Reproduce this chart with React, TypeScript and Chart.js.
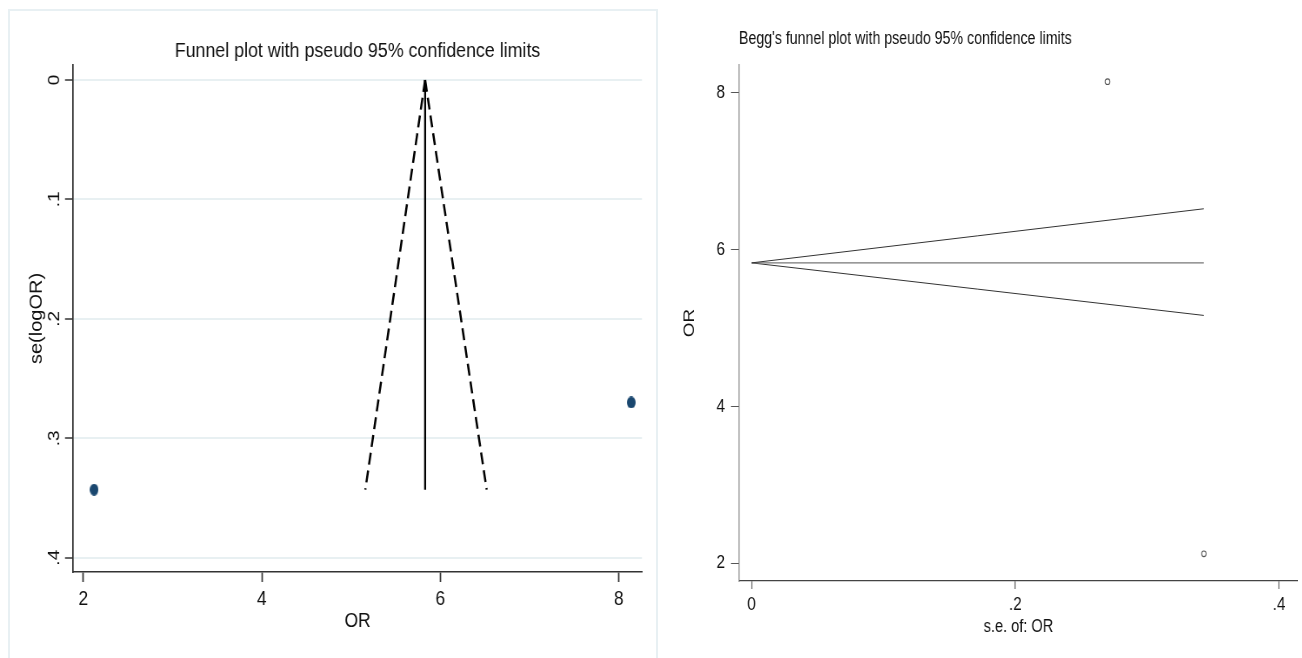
import React, { useEffect, useRef } from "react";
import { Chart, registerables } from "chart.js";

Chart.register(...registerables);

// ---- data ----
const studyOR = [2.12, 8.14];
const studySE = [0.343, 0.27];
const pooledOR = 5.83;
const funnelMaxSE = 0.343;
const lowerLimitOR = 5.16;
const upperLimitOR = 6.52;

const leftXTicks = [2, 4, 6, 8];
const leftXTickLabels = ["2", "4", "6", "8"];
const leftYTicks = [0, 0.1, 0.2, 0.3, 0.4];
const leftYTickLabels = ["0", ".1", ".2", ".3", ".4"];
const rightXTicks = [0, 0.2, 0.4];
const rightXTickLabels = ["0", ".2", ".4"];
const rightYTicks = [2, 4, 6, 8];
const rightYTickLabels = ["2", "4", "6", "8"];

const FONT = '"Liberation Sans", Arial, sans-serif';

// the reference is horizontally condensed: each canvas is drawn wider and shown narrower
const LEFT_CSS_W = 660;
const LEFT_INT_W = 759;
const kL = LEFT_CSS_W / LEFT_INT_W;
const RIGHT_CSS_W = 642;
const RIGHT_INT_W = 793;
const kR = RIGHT_CSS_W / RIGHT_INT_W;
const H = 658;

function ellipseDot(w: number, h: number, color: string) {
  const c = document.createElement("canvas");
  c.width = Math.round(w);
  c.height = Math.round(h);
  const ctx = c.getContext("2d")!;
  ctx.fillStyle = color;
  ctx.beginPath();
  ctx.ellipse(c.width / 2, c.height / 2, c.width / 2, c.height / 2, 0, 0, Math.PI * 2);
  ctx.fill();
  return c;
}

function setTicks(values: number[]) {
  return (s: any) => {
    s.ticks = values.map((v) => ({ value: v }));
  };
}

export default function App() {
  const leftRef = useRef<HTMLCanvasElement>(null);
  const rightRef = useRef<HTMLCanvasElement>(null);

  useEffect(() => {
    const dot = ellipseDot(9 / kL, 12, "#1a476f");
    const left = new Chart(leftRef.current!, {
      type: "scatter",
      data: {
        datasets: [
          {
            data: [
              { x: pooledOR, y: 0 },
              { x: lowerLimitOR, y: funnelMaxSE },
            ],
            showLine: true,
            borderColor: "#000",
            borderWidth: 2.5,
            borderDash: [12, 6],
            pointRadius: 0,
          },
          {
            data: [
              { x: pooledOR, y: 0 },
              { x: upperLimitOR, y: funnelMaxSE },
            ],
            showLine: true,
            borderColor: "#000",
            borderWidth: 2.5,
            borderDash: [12, 6],
            pointRadius: 0,
          },
          {
            data: [
              { x: pooledOR, y: 0 },
              { x: pooledOR, y: funnelMaxSE },
            ],
            showLine: true,
            borderColor: "#000",
            borderWidth: 2.3,
            pointRadius: 0,
          },
          {
            data: studyOR.map((v, i) => ({ x: v, y: studySE[i] })),
            pointStyle: dot as any,
            pointRadius: 6,
            showLine: false,
          },
        ],
      },
      options: {
        animation: false,
        responsive: false,
        devicePixelRatio: 1,
        events: [],
        layout: { padding: { left: 0, right: LEFT_INT_W - 642 / kL, top: 0, bottom: 0 } },
        plugins: {
          legend: { display: false },
          tooltip: { enabled: false },
          title: {
            display: true,
            text: "Funnel plot with pseudo 95% confidence limits",
            color: "#111",
            font: { family: FONT, size: 20.5, weight: "normal" },
            padding: { top: 38.7, bottom: 1.7 },
            fullSize: false,
            align: "center",
          } as any,
        },
        scales: {
          x: {
            type: "linear",
            position: "bottom",
            min: 1.8834,
            max: 8.261,
            afterBuildTicks: setTicks(leftXTicks),
            afterFit: (s: any) => {
              s.height = 86;
            },
            grid: {
              drawOnChartArea: false,
              drawTicks: true,
              tickLength: 10,
              tickColor: "#333",
              tickWidth: 1.7,
            },
            border: { display: true, color: "#333", width: 1.5 },
            ticks: {
              color: "#111",
              font: { family: FONT, size: 20 },
              padding: 5,
              autoSkip: false,
              minRotation: 0,
              maxRotation: 0,
              callback: (_v: any, i: number) => leftXTickLabels[i],
            },
            title: {
              display: true,
              text: "OR",
              color: "#111",
              font: { family: FONT, size: 20 },
              padding: { top: 0, bottom: 25 },
            },
          },
          y: {
            type: "linear",
            position: "left",
            reverse: true,
            min: -0.01256,
            max: 0.41197,
            afterBuildTicks: setTicks(leftYTicks),
            afterFit: (s: any) => {
              s.width = 73 / kL;
            },
            grid: {
              color: "#e8f0f2",
              lineWidth: 2,
              drawTicks: true,
              tickLength: 8 / kL,
              tickColor: "#333",
              tickWidth: 1.5,
            },
            border: { display: true, color: "#333", width: 1.7 },
            ticks: {
              color: "#111",
              font: { family: FONT, size: 19 },
              padding: 4.5,
              minRotation: 90,
              maxRotation: 90,
              crossAlign: "center",
              autoSkip: false,
              callback: (_v: any, i: number) => leftYTickLabels[i],
            },
            title: {
              display: true,
              text: "se(logOR)",
              color: "#111",
              font: { family: FONT, size: 20 },
              padding: { top: 36.7 / kL - 12, bottom: 0 },
            },
          },
        },
      },
    });

    const right = new Chart(rightRef.current!, {
      type: "scatter",
      data: {
        datasets: [
          {
            data: [
              { x: 0, y: pooledOR },
              { x: funnelMaxSE, y: upperLimitOR },
            ],
            showLine: true,
            borderColor: "#333",
            borderWidth: 1,
            pointRadius: 0,
          },
          {
            data: [
              { x: 0, y: pooledOR },
              { x: funnelMaxSE, y: pooledOR },
            ],
            showLine: true,
            borderColor: "#777",
            borderWidth: 1.3,
            pointRadius: 0,
          },
          {
            data: [
              { x: 0, y: pooledOR },
              { x: funnelMaxSE, y: lowerLimitOR },
            ],
            showLine: true,
            borderColor: "#333",
            borderWidth: 1,
            pointRadius: 0,
          },
          {
            data: studySE.map((v, i) => ({ x: v, y: studyOR[i] })),
            showLine: false,
            pointStyle: "circle",
            pointRadius: 2.8,
            borderColor: "#555",
            borderWidth: 1.1,
            backgroundColor: "rgba(255,255,255,0)",
          },
        ],
      },
      options: {
        animation: false,
        responsive: false,
        devicePixelRatio: 1,
        events: [],
        layout: { padding: 0 },
        plugins: {
          legend: { display: false },
          tooltip: { enabled: false },
          title: {
            display: true,
            text: "Begg's funnel plot with pseudo 95% confidence limits",
            color: "#111",
            font: { family: FONT, size: 17.5, weight: "normal" },
            padding: { top: 29, bottom: 15 },
            fullSize: false,
            align: "start",
          } as any,
        },
        scales: {
          x: {
            type: "linear",
            position: "bottom",
            min: -0.00956,
            max: 0.41431,
            afterBuildTicks: setTicks(rightXTicks),
            afterFit: (s: any) => {
              s.height = 77;
            },
            grid: {
              drawOnChartArea: false,
              drawTicks: true,
              tickLength: 8,
              tickColor: "#555",
              tickWidth: 1.2,
            },
            border: { display: true, color: "#444", width: 1.2 },
            ticks: {
              color: "#111",
              font: { family: FONT, size: 19 },
              padding: 4,
              autoSkip: false,
              minRotation: 0,
              maxRotation: 0,
              callback: (_v: any, i: number) => rightXTickLabels[i],
            },
            title: {
              display: true,
              text: "s.e. of: OR",
              color: "#111",
              font: { family: FONT, size: 18 },
              padding: { top: 0, bottom: 20.5 },
            },
          },
          y: {
            type: "linear",
            position: "left",
            min: 1.7737,
            max: 8.3532,
            afterBuildTicks: setTicks(rightYTicks),
            afterFit: (s: any) => {
              s.width = 79 / kR;
            },
            grid: {
              drawOnChartArea: false,
              drawTicks: true,
              tickLength: 8 / kR,
              tickColor: "#555",
              tickWidth: 1,
            },
            border: { display: true, color: "#777", width: 1.2 },
            ticks: {
              color: "#111",
              font: { family: FONT, size: 19 },
              padding: 7.4,
              autoSkip: false,
              callback: (_v: any, i: number) => rightYTickLabels[i],
            },
            title: {
              display: true,
              text: "OR",
              color: "#111",
              font: { family: FONT, size: 19 },
              padding: { top: 30 / kR - 11.4, bottom: 0 },
            },
          },
        },
      },
    });

    return () => {
      left.destroy();
      right.destroy();
    };
  }, []);

  return (
    <div
      style={{
        position: "absolute",
        left: 0,
        top: 0,
        width: 1302,
        height: H,
        overflow: "hidden",
        background: "#fff",
      }}
    >
      <div
        style={{
          position: "absolute",
          left: 8,
          top: 9,
          width: 646,
          height: 700,
          border: "2px solid #e8f0f3",
        }}
      />
      <canvas
        ref={leftRef}
        width={LEFT_INT_W}
        height={H}
        style={{ position: "absolute", left: 0, top: 0, width: LEFT_CSS_W, height: H }}
      />
      <canvas
        ref={rightRef}
        width={RIGHT_INT_W}
        height={H}
        style={{ position: "absolute", left: 660, top: 0, width: RIGHT_CSS_W, height: H }}
      />
    </div>
  );
}
